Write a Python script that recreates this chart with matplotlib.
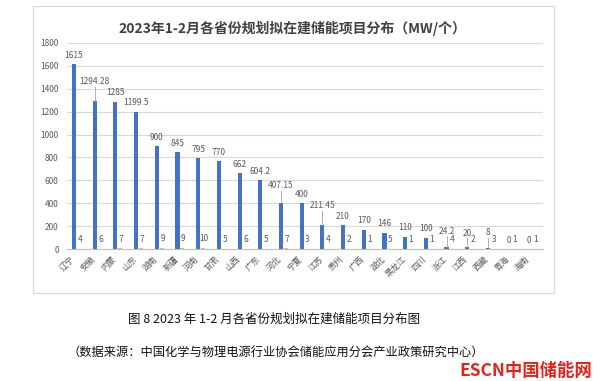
import matplotlib
matplotlib.use("Agg")
import matplotlib.pyplot as plt
import numpy as np
from matplotlib.patches import Rectangle

provinces = ["辽宁", "安徽", "内蒙", "山东", "湖南", "新疆", "河南", "甘肃", "山西", "广东",
             "河北", "宁夏", "江苏", "贵州", "广西", "湖北", "黑龙江", "四川", "浙江", "江西",
             "西藏", "青海", "海南"]
capacity_mw = [1615, 1294.28, 1285, 1199.5, 900, 845, 795, 770, 662, 604.2,
               407.15, 400, 211.45, 210, 170, 146, 110, 100, 24.2, 20,
               8, 0, 0]
project_count = [4, 6, 7, 7, 9, 9, 10, 5, 6, 5,
                 7, 3, 4, 2, 1, 5, 1, 1, 4, 2,
                 3, 1, 1]
capacity_text = ["1615", "1294.28", "1285", "1199.5", "900", "845", "795", "770", "662", "604.2",
                 "407.15", "400", "211.45", "210", "170", "146", "110", "100", "24.2", "20",
                 "8", "0", "0"]

# labels that Excel pushed up with a leader line: index -> label centre (data units)
LEADER_LABELS = {1: 1458, 10: 552, 12: 380, 18: 159, 19: 142, 20: 145}

BLUE = "#4472C4"
ORANGE = "#F4B183"
GREY_TXT = "#595959"
GRID = "#D9D9D9"
CJK = ["Noto Sans CJK SC", "DejaVu Sans"]

plt.rcParams["font.family"] = CJK

W, H = 600, 381
fig = plt.figure(figsize=(W / 100, H / 100), dpi=100)
fig.patch.set_facecolor("white")

# chart frame
fig.patches.append(Rectangle((33 / W, 1 - 293 / H), (554 - 33) / W, (293 - 6) / H,
                             transform=fig.transFigure, fill=False, edgecolor=GRID, lw=0.9))

ax = fig.add_axes([67 / W, 1 - 249.3 / H, (543 - 67) / W, (249.3 - 42.7) / H])
x = np.arange(len(provinces))
bw = 0.2
ax.bar(x - 0.16, capacity_mw, bw, color=BLUE, zorder=3)
ax.bar(x + 0.07, project_count, bw, color=ORANGE, zorder=3)

ax.set_xlim(-0.5, len(provinces) - 0.5)
ax.set_ylim(0, 1800)
ax.set_yticks(np.arange(0, 1801, 200))
ax.tick_params(axis="y", length=0, labelsize=6, labelcolor=GREY_TXT, pad=6)
ax.tick_params(axis="x", length=0, pad=4)
ax.set_xticks(x - 0.05)
ax.set_xticklabels(provinces, rotation=45, ha="right", va="top", fontsize=6,
                   color=GREY_TXT)
ax.grid(axis="y", color=GRID, lw=0.8, zorder=0)
for s in ["top", "right", "left"]:
    ax.spines[s].set_visible(False)
ax.spines["bottom"].set_color("#BFBFBF")
ax.spines["bottom"].set_linewidth(0.8)

for i, (v, t, n) in enumerate(zip(capacity_mw, capacity_text, project_count)):
    xb = i - 0.16
    if i in LEADER_LABELS:
        ly = LEADER_LABELS[i]
        ax.plot([xb, xb], [ly - 45, v], color="#A6A6A6", lw=0.6, zorder=4)
        ax.text(xb, ly, t, ha="center", va="center", fontsize=6, color=GREY_TXT)
    else:
        ax.text(xb, v + 77, t, ha="center", va="center", fontsize=6, color=GREY_TXT)
    ax.text(i + 0.12, n + 82, str(n), ha="center", va="center", fontsize=6, color=GREY_TXT)

fig.text(292 / W, 1 - 28.7 / H, "2023年1-2月各省份规划拟在建储能项目分布（MW/个）",
         ha="center", va="center", fontsize=10, fontweight="bold", color="#404040")

fig.text(274 / W, 1 - 319 / H, "图 8 2023 年 1-2 月各省份规划拟在建储能项目分布图",
         ha="center", va="center", fontsize=9, color="#111111")
fig.text(276 / W, 1 - 352 / H, "（数据来源：中国化学与物理电源行业协会储能应用分会产业政策研究中心）",
         ha="center", va="center", fontsize=8.8, color="#111111")
fig.text(592 / W, 1 - 371 / H, "ESCN中国储能网", ha="right", va="center",
         fontsize=12.5, fontweight="heavy", color="#E2231A")

fig.savefig("out.png", dpi=100, facecolor="white")
